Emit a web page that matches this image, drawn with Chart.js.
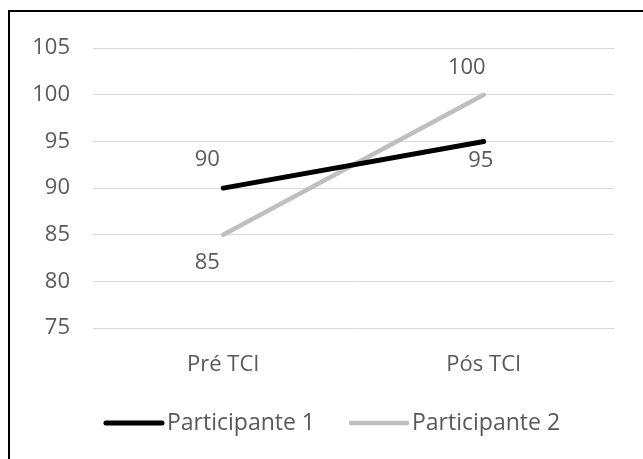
<!DOCTYPE html>
<html lang="pt">
<head>
    <meta charset="UTF-8">
    <title>Participantes - Pré e Pós TCI</title>
    <script src="https://cdn.jsdelivr.net/npm/chart.js"></script>
    <style>
        html, body {
          margin: 0;
          padding: 0;
          background: #ffffff;
          overflow: hidden;
        }

        .chartBox {
          position: absolute;
          left: 8px;
          top: 10px;
          width: 646px;
          height: 460px;
          border-left: 2px solid #000;
          border-top: 2px solid #000;
        }
    </style>
</head>
<body>
    <div class="chartBox">
        <canvas id="tciChart" width="646" height="460"></canvas>
    </div>
    <script>
        // Chart data
        const categories = ['Pré TCI', 'Pós TCI'];
        const participante1 = [90, 95];
        const participante2 = [85, 100];
        const seriesNames = ['Participante 1', 'Participante 2'];
        const yTicks = [75, 80, 85, 90, 95, 100, 105];

        const fontFamily = '"Open Sans", "Liberation Sans", sans-serif';
        const textColor = '#595959';

        // Value labels next to each point (offsets in px from the point)
        const valueLabels = {
            id: 'valueLabels',
            afterDatasetsDraw(chart, args, opts) {
                const ctx = chart.ctx;
                ctx.save();
                ctx.font = opts.size + 'px ' + fontFamily;
                ctx.fillStyle = textColor;
                ctx.textAlign = 'center';
                ctx.textBaseline = 'middle';
                chart.data.datasets.forEach((ds, i) => {
                    const meta = chart.getDatasetMeta(i);
                    meta.data.forEach((pt, j) => {
                        const off = opts.offsets[i][j];
                        ctx.fillText(String(ds.data[j]), pt.x + off[0], pt.y + off[1]);
                    });
                });
                ctx.restore();
            }
        };

        // Excel-like legend: line sample then text, centred below the plot
        const lineLegend = {
            id: 'lineLegend',
            afterDraw(chart, args, opts) {
                const ctx = chart.ctx;
                ctx.save();
                ctx.font = opts.size + 'px ' + fontFamily;
                ctx.textBaseline = 'middle';
                const items = chart.data.datasets.map(ds => ({
                    ds: ds,
                    w: opts.sample + opts.gap + ctx.measureText(ds.label).width
                }));
                let total = items.reduce((s, it) => s + it.w, 0) + opts.spacing * (items.length - 1);
                let x = opts.centerX - total / 2;
                items.forEach(it => {
                    ctx.strokeStyle = it.ds.borderColor;
                    ctx.lineWidth = it.ds.borderWidth;
                    ctx.lineCap = 'round';
                    ctx.beginPath();
                    ctx.moveTo(x + 2, opts.y);
                    ctx.lineTo(x + opts.sample - 2, opts.y);
                    ctx.stroke();
                    ctx.fillStyle = textColor;
                    ctx.textAlign = 'left';
                    ctx.fillText(it.ds.label, x + opts.sample + opts.gap, opts.y);
                    x += it.w + opts.spacing;
                });
                ctx.restore();
            }
        };

        const ctx = document.getElementById('tciChart').getContext('2d');
        new Chart(ctx, {
            type: 'line',
            data: {
                labels: categories,
                datasets: [{
                    label: seriesNames[0],
                    data: participante1,
                    borderColor: '#000000',
                    borderWidth: 5,
                    borderCapStyle: 'round',
                    pointRadius: 0,
                    fill: false,
                    tension: 0
                }, {
                    label: seriesNames[1],
                    data: participante2,
                    borderColor: '#bfbfbf',
                    borderWidth: 4.5,
                    borderCapStyle: 'round',
                    pointRadius: 0,
                    fill: false,
                    tension: 0
                }]
            },
            options: {
                responsive: false,
                animation: false,
                layout: {
                    padding: { top: 32, right: 42, left: 0, bottom: 0 }
                },
                plugins: {
                    legend: { display: false },
                    tooltip: { enabled: false },
                    valueLabels: {
                        size: 22,
                        offsets: [[[-16, -28], [-3, 19]], [[-16, 28], [-17, -27]]]
                    },
                    lineLegend: {
                        size: 23,
                        sample: 60,
                        gap: 3,
                        spacing: 34,
                        centerX: 322,
                        y: 411
                    }
                },
                scales: {
                    x: {
                        type: 'category',
                        offset: true,
                        grid: { display: false, drawTicks: false },
                        border: { display: false },
                        ticks: {
                            color: textColor,
                            font: { family: fontFamily, size: 22 },
                            padding: 24,
                            maxRotation: 0
                        },
                        afterFit(scale) { scale.height = 460 - 32 - 284; }
                    },
                    y: {
                        min: 75,
                        max: 105,
                        afterBuildTicks(scale) {
                            scale.ticks = yTicks.map(v => ({ value: v }));
                        },
                        grid: { color: '#d9d9d9', lineWidth: 1, drawTicks: false },
                        border: { display: false },
                        ticks: {
                            color: textColor,
                            font: { family: fontFamily, size: 22 },
                            padding: 23
                        },
                        afterFit(scale) { scale.width = 83; }
                    }
                }
            },
            plugins: [valueLabels, lineLegend]
        });
    </script>
</body>
</html>
